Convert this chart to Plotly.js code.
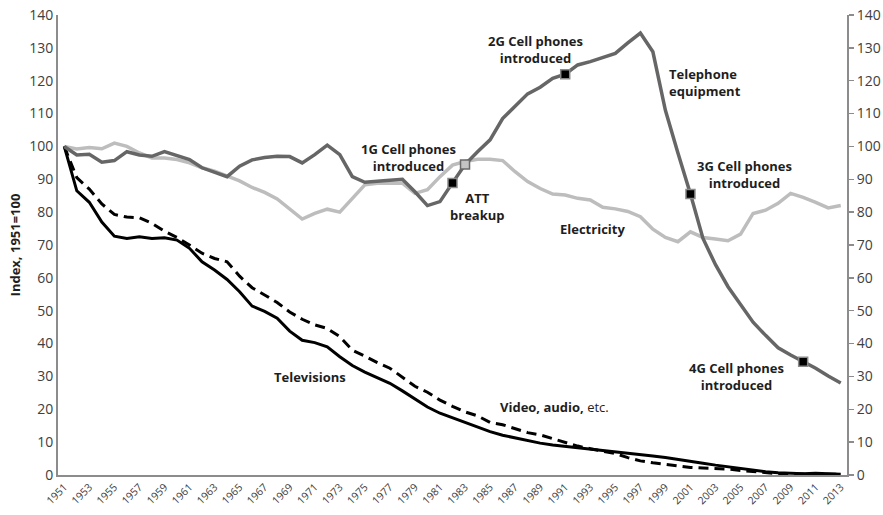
<!DOCTYPE html>
<html>
<head>
<meta charset="utf-8">
<script src="https://cdn.plot.ly/plotly-3.0.1.min.js"></script>
<style>html,body{margin:0;padding:0;background:#fff;}#chart{width:883px;height:515px;}</style>
</head>
<body>
<div id="chart"></div>
<script>
const years = [1951,1952,1953,1954,1955,1956,1957,1958,1959,1960,1961,1962,1963,1964,1965,1966,1967,1968,1969,1970,
  1971,1972,1973,1974,1975,1976,1977,1978,1979,1980,1981,1982,1983,1984,1985,1986,1987,1988,1989,1990,
  1991,1992,1993,1994,1995,1996,1997,1998,1999,2000,2001,2002,2003,2004,2005,2006,2007,2008,2009,2010,
  2011,2012,2013];

const telephone = [100,97.4,97.6,95.2,95.7,98.4,97.4,97,98.4,97.3,96,93.5,92.2,90.8,94,95.9,96.6,97,96.9,95,
  97.5,100.4,97.5,90.8,89.1,89.5,89.7,90,86.2,82,83.2,88.9,94.5,98.4,102,108.5,112.3,116,118,120.7,
  122,124.8,125.8,127,128.3,131.5,134.5,128.8,111,98,85.5,72,64,57.3,51.7,46.5,42.5,38.7,36.5,34.5,
  32.5,30.1,28];

const electricity = [100,99.2,99.7,99.3,101,100,98,96.5,96.5,96,95,93.5,92.5,91,89.5,87.5,86,84,80.8,77.9,
  79.6,80.9,80,84.2,88.3,88.8,88.8,88.8,85.7,86.8,90.8,94.3,95.4,96.1,96.1,95.7,92.3,89.3,87.2,85.5,
  85.2,84.2,83.7,81.5,81,80.2,78.6,74.8,72.3,71,74,72.3,71.8,71.3,73.3,79.6,80.6,82.7,85.7,84.5,
  83,81.3,82];

const televisions = [100,86.5,83,77,72.7,72,72.5,72,72.2,71.5,69,64.9,62.4,59.5,55.8,51.4,49.8,47.7,43.8,41,
  40.3,39,36,33.3,31.3,29.5,27.9,25.6,23.2,20.7,18.8,17.4,15.9,14.6,13.2,12.1,11.3,10.4,9.7,9.1,
  8.7,8.4,8,7.6,7.2,6.7,6.2,5.8,5.3,4.8,4.2,3.6,3,2.5,2,1.4,1,0.7,0.5,0.4,
  0.5,0.4,0.2];

const videoAudio = [100,90.5,87,82.5,79.3,78.5,78.3,76.6,74.2,72.3,70,67.5,65.9,64.9,60.5,57,54.8,52.5,49.6,47.4,
  45.7,44.6,42.1,38,36.2,34.2,32.5,29.7,27,25.2,22.8,20.9,19.2,18,16,15.3,14,12.9,12.2,11,
  9.8,8.8,8,7.2,6.5,5.3,4.3,3.7,3.2,2.6,2.3,2.1,2,1.8,1.4,1,0.6,0.4,0.3,0.3,
  0.3,0.3,0.2];

const tickYears = [1951,1953,1955,1957,1959,1961,1963,1965,1967,1969,1971,1973,1975,1977,1979,1981,1983,1985,
  1987,1989,1991,1993,1995,1997,1999,2001,2003,2005,2007,2009,2011,2013];
const yTicks = [0,10,20,30,40,50,60,70,80,90,100,110,120,130,140];

// milestone markers on telephone equipment line
const milestoneYears = [1982, 1991, 2001, 2010];
const oneGYear = [1983];
const valueAt = (arr, yrs) => yrs.map(y => arr[years.indexOf(y)]);

const FONT = "'Open Sans', 'Noto Sans', sans-serif";

const traces = [
  {x: years, y: electricity, type: 'scatter', mode: 'lines', name: 'Electricity',
   line: {color: '#bdbdbd', width: 3.5}, hoverinfo: 'x+y'},
  {x: years, y: televisions, type: 'scatter', mode: 'lines', name: 'Televisions',
   line: {color: '#000000', width: 3}},
  {x: years, y: videoAudio, type: 'scatter', mode: 'lines', name: 'Video, audio, etc.',
   line: {color: '#000000', width: 3, dash: '10px,6px'}},
  {x: years, y: telephone, type: 'scatter', mode: 'lines', name: 'Telephone equipment',
   line: {color: '#666666', width: 3.5}, yaxis: 'y2'},
  {x: milestoneYears, y: valueAt(telephone, milestoneYears), type: 'scatter', mode: 'markers',
   marker: {symbol: 'square', size: 9, color: '#000000', line: {color: '#8a8a8a', width: 1.5}}, yaxis: 'y2'},
  {x: oneGYear, y: valueAt(telephone, oneGYear), type: 'scatter', mode: 'markers',
   marker: {symbol: 'square', size: 9, color: '#c4c4c4', line: {color: '#6a6a6a', width: 1.5}}, yaxis: 'y2'}
];

const annFont = {family: FONT, size: 13, color: '#1e1e1e'};
const ann = (x, y, text, xanchor) => ({x, y, xref: 'x', yref: 'y', text, showarrow: false,
  xanchor: xanchor || 'center', yanchor: 'middle', align: xanchor === 'left' ? 'left' : 'center', font: annFont});

const layout = {
  width: 883, height: 515,
  margin: {l: 58, r: 36, t: 15, b: 40},
  paper_bgcolor: '#ffffff', plot_bgcolor: '#ffffff',
  showlegend: false,
  font: {family: FONT, color: '#404040'},
  xaxis: {
    type: 'linear', range: [1950.5, 2013.5], tickvals: tickYears, ticktext: tickYears.map(String),
    tickangle: -45, tickfont: {size: 10.5, color: '#404040'},
    showline: true, linecolor: '#8c8c8c', linewidth: 2, showgrid: false, zeroline: false, ticks: ''
  },
  yaxis: {
    range: [0, 140], tickvals: yTicks, showgrid: false, zeroline: false,
    showline: true, linecolor: '#8c8c8c', linewidth: 2, ticks: '',
    tickfont: {size: 14, color: '#404040'},
    title: {text: '<b>Index, 1951=100</b>', font: {size: 13, color: '#1e1e1e'}, standoff: 6}
  },
  yaxis2: {
    range: [0, 140], tickvals: yTicks, overlaying: 'y', side: 'right', showgrid: false, zeroline: false,
    showline: true, linecolor: '#8c8c8c', linewidth: 2, ticks: 'outside', ticklen: 5, tickcolor: '#8c8c8c', tickwidth: 1.5,
    tickfont: {size: 14, color: '#404040'}
  },
  annotations: [
    ann(1988.66, 129.6, '<b>2G Cell phones<br>introduced</b>'),
    ann(1999.1, 119.4, '<b>Telephone<br>equipment</b>', 'left'),
    ann(1978.5, 96.5, '<b>1G Cell phones<br>introduced</b>'),
    ann(1984.0, 81.8, '<b>ATT<br>breakup</b>'),
    ann(1993.2, 75, '<b>Electricity</b>'),
    ann(2005.3, 91.4, '<b>3G Cell phones<br>introduced</b>'),
    ann(2004.7, 29.9, '<b>4G Cell phones<br>introduced</b>'),
    ann(1970.6, 29.9, '<b>Televisions</b>'),
    ann(1990.15, 20.8, '<b>Video, audio,</b> etc.')
  ]
};

Plotly.newPlot('chart', traces, layout, {displayModeBar: false, staticPlot: true});
</script>
</body>
</html>
